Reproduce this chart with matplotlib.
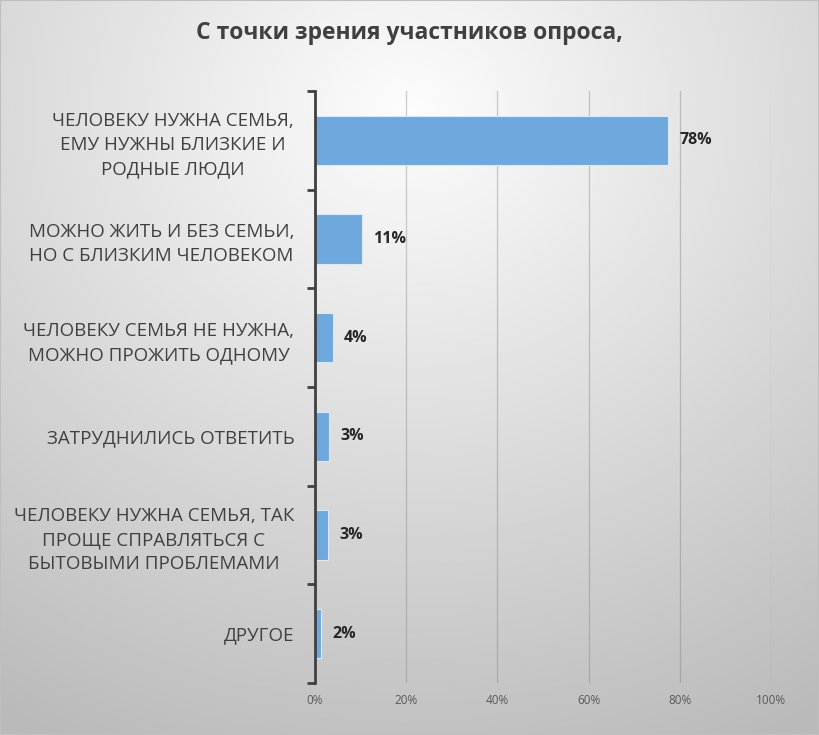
import numpy as np
import matplotlib
matplotlib.use('Agg')
import matplotlib.pyplot as plt

plt.rcParams['font.family'] = ['Open Sans', 'DejaVu Sans']

# data, top to bottom as in the picture
categories = [
    'ЧЕЛОВЕКУ НУЖНА СЕМЬЯ,\nЕМУ НУЖНЫ БЛИЗКИЕ И\nРОДНЫЕ ЛЮДИ',
    'МОЖНО ЖИТЬ И БЕЗ СЕМЬИ,\nНО С БЛИЗКИМ ЧЕЛОВЕКОМ',
    'ЧЕЛОВЕКУ СЕМЬЯ НЕ НУЖНА,\nМОЖНО ПРОЖИТЬ ОДНОМУ',
    'ЗАТРУДНИЛИСЬ ОТВЕТИТЬ',
    'ЧЕЛОВЕКУ НУЖНА СЕМЬЯ, ТАК\nПРОЩЕ СПРАВЛЯТЬСЯ С\nБЫТОВЫМИ ПРОБЛЕМАМИ',
    'ДРУГОЕ',
]
values = [77.5, 10.4, 4.0, 3.1, 2.9, 1.4]
value_labels = ['78%', '11%', '4%', '3%', '3%', '2%']
x_ticks = [0, 20, 40, 60, 80, 100]

fig = plt.figure(figsize=(8.19, 7.35), dpi=100)

# radial grey background
bg = fig.add_axes([0, 0, 1, 1], zorder=-10)
yy, xx = np.mgrid[0:1:300j, 0:1:300j]
r = np.sqrt(((xx - 0.5) * 1.0) ** 2 + ((yy - 0.15) * 1.0) ** 2)
shade = 0.99 - 0.26 * np.clip(r / 0.95, 0, 1)
bg.imshow(shade, cmap='gray', vmin=0, vmax=1, extent=[0, 1, 1, 0], aspect='auto')
bg.set_xlim(0, 1)
bg.set_ylim(1, 0)
bg.axis('off')
fig.patches.append(plt.Rectangle((0, 0), 1, 1, transform=fig.transFigure,
                                 fill=False, edgecolor='#bfbfbf', linewidth=1.5))

ax = fig.add_axes([0.3846, 0.0707, 0.5568, 0.8055])
ax.patch.set_alpha(0)

pos = np.arange(len(categories))
ax.barh(pos, values, height=0.5, color='#6fa8dc', edgecolor='#dbe8f5', linewidth=0.8, zorder=3)
for p, v, lab in zip(pos, values, value_labels):
    ax.text(v + 2.4, p, lab, va='center', ha='left', fontsize=11.5, fontweight='bold', color='#262626')

ax.set_ylim(len(categories) - 0.5, -0.5)
ax.set_xlim(0, 100)
ax.set_xticks(x_ticks)
ax.set_xticklabels([f'{t}%' for t in x_ticks], fontsize=8.5, color='#595959')
ax.tick_params(axis='x', length=0, pad=8)
ax.grid(axis='x', color='#7f7f7f', alpha=0.4, linewidth=0.9, zorder=0)

ax.set_yticks(pos)
ax.set_yticklabels(categories, fontsize=13.5, color='#404040')
for t in ax.get_yticklabels():
    t.set_multialignment('center')
    t.set_linespacing(1.44)
ax.set_yticks(np.arange(len(categories) + 1) - 0.5, minor=True)
ax.tick_params(axis='y', which='major', length=0, pad=15)
ax.tick_params(axis='y', which='minor', length=6, width=2, color='#404040')

for s in ['top', 'right', 'bottom']:
    ax.spines[s].set_visible(False)
ax.spines['left'].set_color('#404040')
ax.spines['left'].set_linewidth(2)
ax.spines['left'].set_zorder(4)

fig.text(0.5, 0.955, 'С точки зрения участников опроса,', ha='center', va='center',
         fontsize=16.5, fontweight='bold', color='#404040')

fig.savefig('out.png', dpi=100)
